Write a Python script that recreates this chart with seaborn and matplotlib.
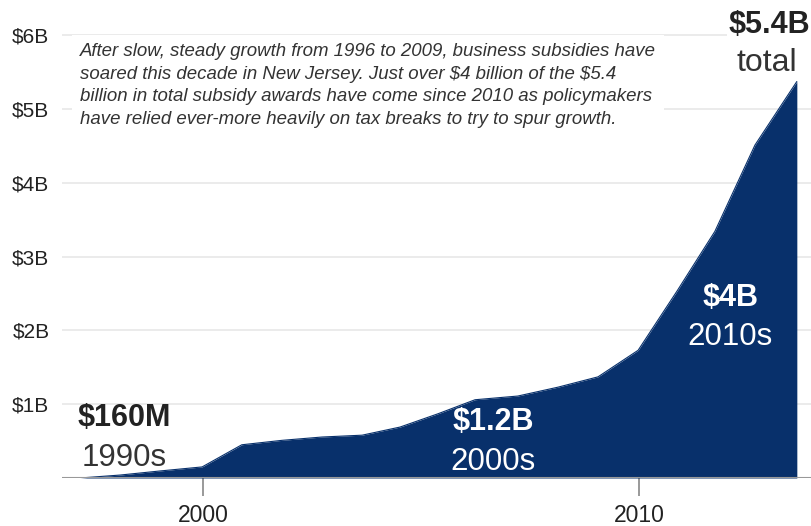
import matplotlib
matplotlib.use("Agg")
import matplotlib.pyplot as plt
import seaborn as sns
import pandas as pd

# ---- data (cumulative subsidy awards, $ billions) ----
years = [1997.18, 1998.10, 1999.01, 1999.98, 2000.89, 2001.81, 2002.73, 2003.65,
         2004.52, 2005.39, 2006.24, 2007.22, 2008.14, 2009.06, 2009.98, 2010.87,
         2011.74, 2012.66, 2013.62]
cumulative = [0.0, 0.04, 0.095, 0.15, 0.45, 0.51, 0.555, 0.58,
              0.69, 0.87, 1.06, 1.11, 1.23, 1.37, 1.73, 2.53,
              3.34, 4.51, 5.37]
y_ticks = [1, 2, 3, 4, 5, 6]
y_tick_labels = ["$1B", "$2B", "$3B", "$4B", "$5B", "$6B"]
x_ticks = [2000, 2010]
x_tick_labels = ["2000", "2010"]
note = ("After slow, steady growth from 1996 to 2009, business subsidies have\n"
        "soared this decade in New Jersey. Just over $4 billion of the $5.4\n"
        "billion in total subsidy awards have come since 2010 as policymakers\n"
        "have relied ever-more heavily on tax breaks to try to spur growth.")

df = pd.DataFrame({"year": years, "cumulative": cumulative})

sns.set_theme(style="white")
plt.rcParams["font.family"] = ["Liberation Sans", "DejaVu Sans"]
plt.rcParams["text.parse_math"] = False

W, H = 812, 526
fig = plt.figure(figsize=(W / 100, H / 100), dpi=100)
ax = fig.add_axes([62 / W, (H - 478) / H, 1 - 62 / W, 478 / H])

navy = "#08306b"
ax.fill_between(df["year"], 0, df["cumulative"], color=navy, linewidth=0, zorder=3)
sns.lineplot(data=df, x="year", y="cumulative", ax=ax, color=navy, linewidth=0.8, zorder=3)

ax.set_xlim(2000 - 141 / 43.6, 2000 + 609 / 43.6)
ax.set_ylim(0, 6 + 35 / 73.8)

for v in y_ticks:
    ax.axhline(v, color="#e8e8e8", linewidth=1.2, zorder=1)
ax.axhline(0, color="#999999", linewidth=1.5, zorder=4)

for s in ax.spines.values():
    s.set_visible(False)
ax.set_yticks(y_ticks)
ax.set_yticklabels(y_tick_labels, fontsize=15, color="#222222")
ax.set_xticks(x_ticks)
ax.set_xticklabels(x_tick_labels, fontsize=16.5, color="#222222")
ax.tick_params(axis="y", length=0, pad=9)
ax.tick_params(axis="x", length=13, width=1.4, color="#999999", direction="out", pad=6)
ax.xaxis.set_ticks_position("bottom")
ax.set_xlabel("")
ax.set_ylabel("")
ax.grid(False)

# annotation with white box hiding gridlines
ax.text(1997.18, 5.89, note, fontsize=13.4, style="italic", color="#333333",
        va="top", ha="left", linespacing=1.42, zorder=5,
        bbox=dict(facecolor="white", edgecolor="none", pad=6))

ax.text(1997.13, 0.81, "$160M", fontsize=22, fontweight="bold", color="#222222",
        ha="left", va="center", zorder=6)
ax.text(1997.22, 0.27, "1990s", fontsize=22.5, color="#333333",
        ha="left", va="center", zorder=6)
ax.text(2006.65, 0.76, "$1.2B", fontsize=22, fontweight="bold", color="white",
        ha="center", va="center", zorder=6)
ax.text(2006.65, 0.22, "2000s", fontsize=22.5, color="white",
        ha="center", va="center", zorder=6)
ax.text(2012.09, 2.44, "$4B", fontsize=22, fontweight="bold", color="white",
        ha="center", va="center", zorder=6)
ax.text(2012.09, 1.91, "2010s", fontsize=22.5, color="white",
        ha="center", va="center", zorder=6)
ax.text(2013.92, 6.14, "$5.4B", fontsize=22, fontweight="bold", color="#222222",
        ha="right", va="center", zorder=6,
        bbox=dict(facecolor="white", edgecolor="none", pad=1))
ax.text(2012.94, 5.62, "total", fontsize=23, color="#333333",
        ha="center", va="center", zorder=6)

fig.savefig("out.png", dpi=100, facecolor="white")
